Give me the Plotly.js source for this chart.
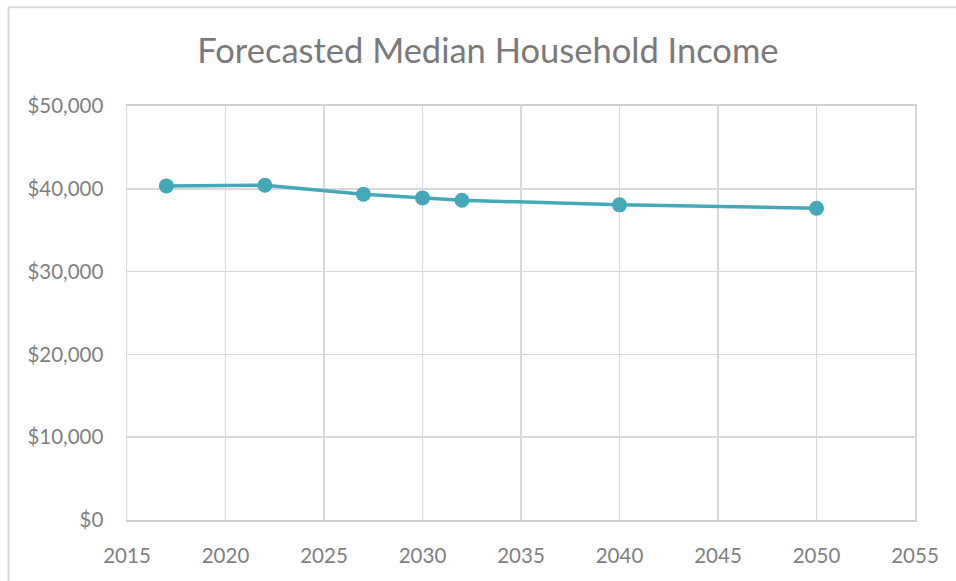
<!DOCTYPE html>
<html>
<head>
<meta charset="utf-8">
<script src="https://cdn.plot.ly/plotly-3.0.1.min.js"></script>
<style>html,body{margin:0;padding:0;background:#fff;}#chart{width:956px;height:581px;}</style>
</head>
<body>
<div id="chart"></div>
<script>
const years = [2017, 2022, 2027, 2030, 2032, 2040, 2050];
const income = [40350, 40430, 39350, 38900, 38620, 38060, 37660];
const chartTitle = "Forecasted Median Household Income";

const font = "Lato, 'Open Sans', sans-serif";
const trace = {
  x: years, y: income, type: 'scatter', mode: 'lines+markers',
  line: {color: '#44A8B8', width: 3.5},
  marker: {color: '#44A8B8', size: 15},
  hoverinfo: 'x+y'
};
const layout = {
  width: 956, height: 581,
  margin: {l: 127, r: 41, t: 105.5, b: 60.5, pad: 0},
  paper_bgcolor: '#fff', plot_bgcolor: '#fff',
  showlegend: false,
  title: {text: chartTitle, x: 0.458, xref: 'paper', y: 0.912, yref: 'container', xanchor: 'center', yanchor: 'middle',
          font: {family: font, size: 34.5, color: '#7a7a7a'}},
  xaxis: {range: [2015, 2055], dtick: 5, tick0: 2015, showgrid: true, gridcolor: '#d9d9d9', gridwidth: 1.5,
          showline: true, linecolor: '#d0d0d0', linewidth: 2, mirror: true, zeroline: false,
          ticks: '', ticklabelstandoff: 16,
          tickfont: {family: font, size: 20.5, color: '#7f7f7f'}},
  yaxis: {range: [0, 50000], dtick: 10000, tickformat: '$,.0f', showgrid: true, gridcolor: '#d9d9d9', gridwidth: 1.5,
          showline: true, linecolor: '#d9d9d9', linewidth: 1.5, mirror: true, zeroline: false,
          ticks: '', ticklabelstandoff: 18,
          tickfont: {family: font, size: 20.5, color: '#7f7f7f'}},
  shapes: [
    {type: 'line', xref: 'paper', yref: 'paper', x0: -0.1504, x1: -0.1504, y0: -0.16, y1: 1.2386, line: {color: '#d9d9d9', width: 2}},
    {type: 'line', xref: 'paper', yref: 'paper', x0: -0.1504, x1: 1.06, y0: 1.2386, y1: 1.2386, line: {color: '#d9d9d9', width: 2}}
  ]
};
Plotly.newPlot('chart', [trace], layout, {displayModeBar: false, staticPlot: true});
</script>
</body>
</html>
